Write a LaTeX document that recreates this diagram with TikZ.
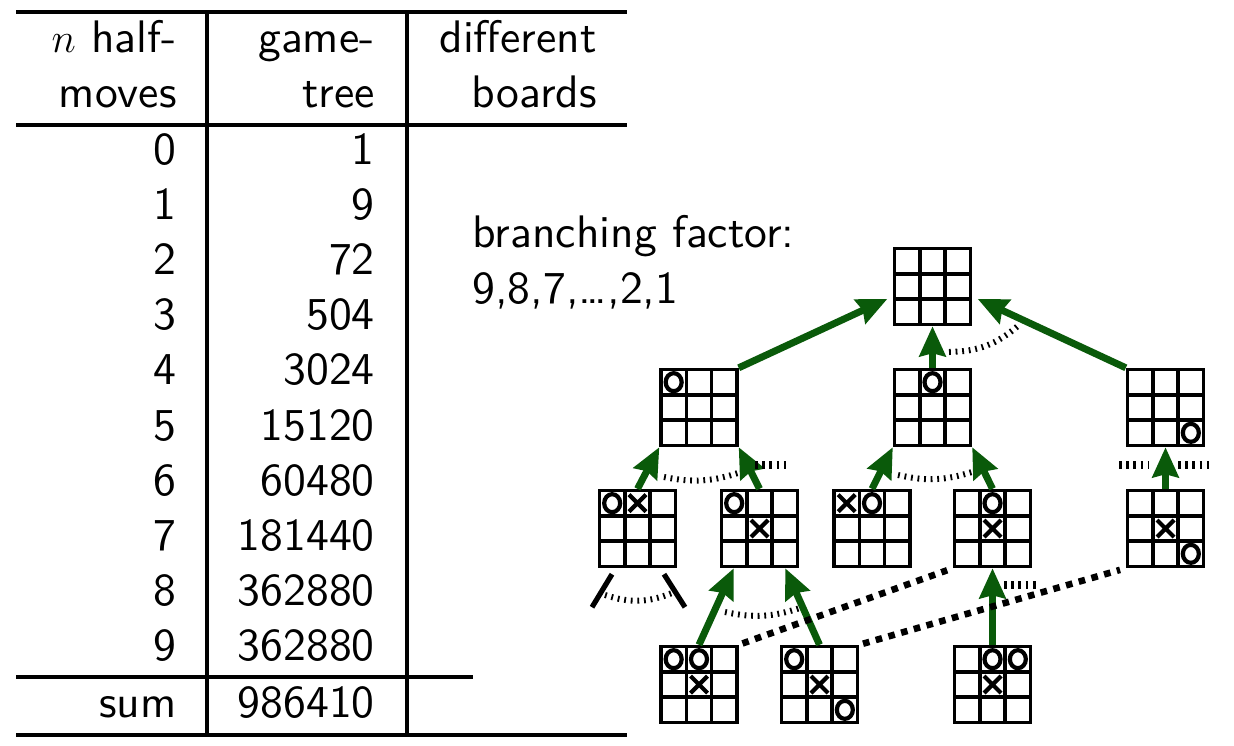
\documentclass[tikz,border=0pt]{standalone}
\usetikzlibrary{arrows.meta}
\definecolor{movegreen}{RGB}{10,90,10}
\font\slidefont="[lmsans10-regular.otf]" at 22.8pt

\newcommand{\board}[3]{%
  \node[board] (#1) at (#2,#3) {};
  \foreach \g in {-12.67,12.67}
    \draw[cell,shift={(#1.center)}] (\g,-38) -- (\g,38) (-38,\g) -- (38,\g);
}
\newcommand{\markO}[3]{\draw[piece,shift={(#1.center)}] (#2*25.33,#3*25.33) ellipse (8 and 9);}
\newcommand{\markX}[3]{\draw[piece,shift={(#1.center)}] (#2*25.33-8.5,#3*25.33-8.5) -- ++(17,17) (#2*25.33-8.5,#3*25.33+8.5) -- ++(17,-17);}

\begin{document}
\begin{tikzpicture}[x=0.5pt,y=-0.5pt,font=\fontsize{22.8}{28}\selectfont\slidefont]
  \tikzstyle{board}=[draw,line width=1.7pt,minimum size=38pt,inner sep=0pt]
  \tikzstyle{cell}=[line width=1.7pt]
  \tikzstyle{piece}=[line width=2.1pt]
  \tikzstyle{entry}=[anchor=base east,inner sep=0pt]
  \tikzstyle{tablerule}=[line width=1.7pt]
  \tikzstyle{movearrow}=[movegreen,line width=3.5pt,-{Stealth[length=15pt,width=13pt,inset=1.5pt]}]
  \tikzstyle{tickarc}=[line width=3pt,dash pattern=on 0.9pt off 2.4pt]
  \tikzstyle{tickstub}=[line width=4pt,dash pattern=on 1.4pt off 2.2pt]
  \tikzstyle{dotline}=[line width=3.3pt,dash pattern=on 3.3pt off 3.3pt]
  \tikzstyle{stubline}=[line width=2.6pt]
\useasboundingbox (0,0) rectangle (1234,745);

% table
\node[entry] (h1a) at (177,52) {$n$ half-};
\node[entry] (h1b) at (177,107) {moves};
\node[entry] (h2a) at (375,52) {game-};
\node[entry] (h2b) at (375,107) {tree};
\node[entry] (h3a) at (597,52) {different};
\node[entry] (h3b) at (597,107) {boards};
\foreach \h/\gt in {0/1,1/9,2/72,3/504,4/3024,5/15120,6/60480,7/181440,8/362880,9/362880}
  {
  \node[entry] (n\h) at (177,164+55.2*\h) {\h};
  \node[entry] (g\h) at (375,164+55.2*\h) {\gt};
  }
\node[entry] (sumlabel) at (177,717) {sum};
\node[entry] (sumvalue) at (375,717) {986410};
\draw[tablerule] (16,12) -- (627,12) (16,125) -- (627,125) (16,677) -- (473,677) (16,735) -- (627,735);
\draw[tablerule] (207,12) -- (207,735) (407,12) -- (407,735);

\node[anchor=base west,inner sep=0pt] (branch) at (472,247) {branching factor:};
\node[anchor=base west,inner sep=0pt] (factors) at (472,303) {9,8,7,\dots,2,1};

% boards
\board{top}{932.5}{286.5}
\board{l1a}{699}{407.5}
\board{l1b}{932.5}{407.5}
\board{l1c}{1165.5}{407.5}
\board{l2a}{637.5}{528.5}
\board{l2b}{759.5}{528.5}
\board{l2c}{872}{528.5}
\board{l2d}{992.5}{528.5}
\board{l2e}{1165.5}{528.5}
\board{l3a}{699}{684.5}
\board{l3b}{819.5}{684.5}
\board{l3c}{992.5}{684.5}

\foreach \b/\i/\j in {l1a/-1/-1,l1b/0/-1,l1c/1/1,l2a/-1/-1,l2b/-1/-1,l2c/0/-1,l2d/0/-1,l2e/1/1,
                      l3a/-1/-1,l3a/0/-1,l3b/-1/-1,l3b/1/1,l3c/0/-1,l3c/1/-1}
  {\markO{\b}{\i}{\j}}
\foreach \b/\i/\j in {l2a/0/-1,l2b/0/0,l2c/-1/-1,l2d/0/0,l2e/0/0,l3a/0/0,l3b/0/0,l3c/0/0}
  {\markX{\b}{\i}{\j}}

% moves, child to parent
\draw[movearrow,shorten >=3pt] (l1a.north east) -- (top.194);
\draw[movearrow,shorten >=3pt] (l1c.north west) -- (top.346);
\draw[movearrow] (l1b.north) -- (top.south);
\draw[movearrow] (l2a.north) -- (l1a.south west);
\draw[movearrow] (l2b.north) -- (l1a.south east);
\draw[movearrow] (l2c.north) -- (l1b.south west);
\draw[movearrow] (l2d.north) -- (l1b.south east);
\draw[movearrow] (l2e.north) -- (l1c.south);
\draw[movearrow] (l3a.north) -- ([xshift=7pt]l2b.south west);
\draw[movearrow] (l3b.north) -- ([xshift=-7pt]l2b.south east);
\draw[movearrow] (l3c.north) -- (l2d.south);

% more children
\draw[tickarc] (949,352) to[bend right=20] (1019,325);
\draw[tickarc] (664,477) to[bend right=15] (741,472);
\draw[tickarc] (898,475) to[bend right=15] (972,472);
\draw[tickarc] (605,595) to[bend right=20] (672,593);
\draw[tickarc] (725,612) to[bend right=15] (800,608);
\draw[tickstub] (755,465) -- (786,465) (1119,465) -- (1149,465) (1178,465) -- (1209,465) (1004,585) -- (1037,585);
\draw[stubline] (l2a.south) ++(-25.5,6) -- ++(-20,33);
\draw[stubline] (l2a.south) ++(26.5,6) -- ++(21,33);

% same board reached twice
\draw[dotline,shorten <=2pt,shorten >=3pt] (l3a.north east) -- (l2d.south west);
\draw[dotline,shorten <=2pt,shorten >=3pt] (l3b.north east) -- (l2e.south west);
\end{tikzpicture}
\end{document}
